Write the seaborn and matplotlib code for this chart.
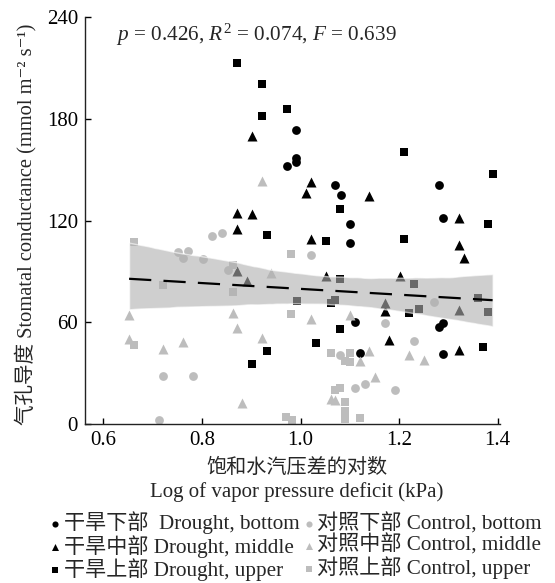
import matplotlib
matplotlib.use("Agg")
import matplotlib.pyplot as plt
import seaborn as sns
import pandas as pd

# values (x = log VPD, y = stomatal conductance)
drought_bottom_x = [0.972, 0.991, 0.991, 0.991, 1.071, 1.082, 1.101, 1.101, 1.111, 1.121,
                    1.281, 1.290, 1.281, 1.290, 1.290]
drought_bottom_y = [151.9, 173.1, 156.9, 154.3, 140.9, 134.8, 118.0, 106.6, 60.2, 41.9,
                    141.1, 121.4, 57.1, 41.5, 59.6]

drought_middle_x = [0.902, 1.021, 1.011, 0.871, 0.902, 0.871, 1.140, 1.021, 1.051, 1.201,
                    1.321, 1.321, 1.331, 1.180, 1.321, 0.871, 0.892, 1.171, 1.171, 1.321]
drought_middle_y = [169.9, 142.5, 136.4, 124.4, 123.8, 114.8, 134.6, 109.3, 87.5, 87.5,
                    121.4, 105.4, 98.0, 49.7, 43.9, 90.2, 84.3, 71.6, 66.6, 67.2]

drought_upper_x = [0.871, 0.922, 0.972, 0.922, 1.081, 1.211, 1.390, 1.381, 1.051, 1.211,
                   0.932, 1.081, 1.031, 0.932, 0.901, 1.370, 1.081, 1.231, 1.061, 1.071,
                   1.221, 1.241, 1.360, 1.381, 0.992]
drought_upper_y = [213.0, 200.3, 185.5, 181.5, 126.9, 160.1, 147.2, 117.8, 108.2, 108.8,
                   111.2, 55.9, 47.9, 43.1, 35.1, 45.6, 85.3, 82.7, 71.4, 73.1,
                   65.5, 67.6, 74.1, 66.1, 72.3]

control_bottom_x = [0.821, 0.841, 0.752, 0.772, 0.762, 0.802, 0.852, 1.021, 0.721, 0.782,
                    0.712, 1.271, 1.171, 1.231, 1.081, 1.111, 1.131, 1.191]
control_bottom_y = [110.7, 112.5, 101.3, 102.1, 97.6, 97.3, 90.8, 99.6, 28.4, 28.4,
                    2.4, 71.8, 59.6, 48.8, 40.5, 21.2, 23.8, 20.2]

control_middle_x = [0.922, 0.652, 0.652, 0.721, 0.762, 0.862, 0.871, 0.922, 0.882, 0.941,
                    1.021, 1.101, 1.061, 1.071, 1.121, 1.140, 1.221, 1.251, 1.151]
control_middle_y = [143.1, 64.2, 50.4, 44.5, 48.2, 65.7, 56.9, 50.8, 12.1, 89.1,
                    61.7, 64.4, 14.8, 13.9, 37.1, 42.8, 40.9, 37.7, 28.0]

control_upper_x = [0.662, 0.721, 0.662, 0.862, 0.862, 0.981, 0.981, 0.971, 0.982, 1.061,
                   1.101, 1.091, 1.101, 1.071, 1.081, 1.091, 1.091, 1.091, 1.121]
control_upper_y = [107.6, 81.8, 46.4, 94.0, 78.0, 100.3, 64.6, 4.3, 2.4, 41.8,
                   41.9, 37.0, 36.6, 20.2, 21.4, 12.7, 7.8, 2.8, 3.6]

groups = [
    ("干旱下部  Drought, bottom", drought_bottom_x, drought_bottom_y, "o", "black"),
    ("干旱中部 Drought, middle", drought_middle_x, drought_middle_y, "^", "black"),
    ("干旱上部 Drought, upper", drought_upper_x, drought_upper_y, "s", "black"),
    ("对照下部 Control, bottom", control_bottom_x, control_bottom_y, "o", "#bdbdbd"),
    ("对照中部 Control, middle", control_middle_x, control_middle_y, "^", "#bdbdbd"),
    ("对照上部 Control, upper", control_upper_x, control_upper_y, "s", "#bdbdbd"),
]

sns.set_style("ticks")
plt.rcParams['font.family'] = ['Liberation Serif', 'Noto Sans CJK SC', 'DejaVu Serif']
plt.rcParams['mathtext.fontset'] = 'custom'
plt.rcParams['mathtext.rm'] = 'Liberation Serif'
plt.rcParams['mathtext.it'] = 'Liberation Serif:italic'

fig = plt.figure(figsize=(5.55, 5.83), dpi=100)
ax = fig.add_axes([85 / 555, 1 - 424 / 583, 415 / 555, 407 / 583])

sizes = {"o": 40, "^": 52, "s": 38}
for label, xs, ys, marker, color in groups:
    sns.scatterplot(x=xs, y=ys, marker=marker, color=color, s=sizes[marker],
                    linewidth=0, label=label, ax=ax, zorder=1)

all_df = pd.DataFrame({
    "x": sum([g[1] for g in groups], []),
    "y": sum([g[2] for g in groups], []),
})
sns.regplot(data=all_df, x="x", y="y", scatter=False, ci=95, ax=ax,
            color="black", truncate=True,
            line_kws={"lw": 1.6, "dashes": (10, 5.5), "zorder": 3})
band = ax.collections[-1]
band.set_facecolor("#b0b0b0")
band.set_alpha(0.6)
band.set_zorder(2)

ax.set_xlim(0.5625, 1.405)
ax.set_ylim(0, 240)
ax.set_xticks([0.6, 0.8, 1.0, 1.2, 1.4])
ax.set_yticks([0, 60, 120, 180, 240])
ax.tick_params(direction="in", length=4, width=1, labelsize=15, colors="black", pad=5)
for side in ["left", "bottom"]:
    ax.spines[side].set_color("#222222")
    ax.spines[side].set_linewidth(1)
sns.despine(ax=ax)

# superscripts as plain characters so the CJK fallback still works
ax.set_ylabel("气孔导度 Stomatal conductance (mmol m⁻² s⁻¹)", fontsize=14.8)
ax.yaxis.set_label_coords(-0.118, 0.49)
ax.set_xlabel("")

fig.text(297 / 555, 1 - 468 / 583, "饱和水汽压差的对数", ha="center", va="center", fontsize=14.5)
fig.text(297 / 555, 1 - 492 / 583, "Log of vapor pressure deficit (kPa)", ha="center",
         va="center", fontsize=15)

ax.text(0.412, 0.956, "$p$ = 0.426, $R^2$ = 0.074, $F$ = 0.639", transform=ax.transAxes,
        ha="center", va="center", fontsize=15.3)

handles, labels = ax.get_legend_handles_labels()
ax.get_legend().remove()
fig.legend(handles, labels, loc="upper left", bbox_to_anchor=(0.075, 0.137), ncol=2,
           frameon=False, fontsize=15.2, handlelength=0.5, handletextpad=0.15,
           columnspacing=0.2, labelspacing=0.02, markerscale=0.7, borderaxespad=0)

fig.savefig("out.png", dpi=100)
